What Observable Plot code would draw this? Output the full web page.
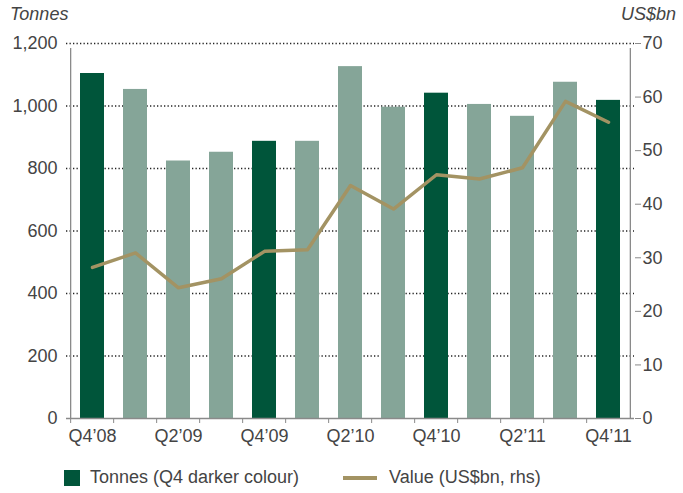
<!DOCTYPE html>
<html><head><meta charset="utf-8">
<script src="https://cdn.jsdelivr.net/npm/d3@7"></script>
<script src="https://cdn.jsdelivr.net/npm/@observablehq/plot@0.6"></script>
<style>
body{margin:0;background:#fff;font-family:"Liberation Sans",Arial,sans-serif;color:#444}
#wrap{position:relative;width:683px;height:493px;overflow:hidden}
.ttl{position:absolute;top:4px;font-style:italic;font-size:18px;color:#444}
#chart{position:absolute;left:0;top:0}
#legend{position:absolute;top:467px;left:64px;display:flex;align-items:center;font-size:18px;color:#444;white-space:nowrap}
.sw{display:inline-block;width:16px;height:16px;background:#00553A;margin-right:10px}
.ln{display:inline-block;width:34px;height:4px;background:#A39363;margin-left:44px;margin-right:12px}
</style></head><body>
<div id="wrap">
<div id="chart"></div>
<div class="ttl" style="left:10px">Tonnes</div>
<div class="ttl" style="right:7px">US$bn</div>
<div id="legend"><span class="sw"></span><span>Tonnes (Q4 darker colour)</span><span class="ln"></span><span>Value (US$bn, rhs)</span></div>
</div>
<script>
const quarters = ["Q4’08","Q1’09","Q2’09","Q3’09","Q4’09","Q1’10","Q2’10","Q3’10","Q4’10","Q1’11","Q2’11","Q3’11","Q4’11"];
const tonnes = [1104, 1053, 824, 852, 887, 887, 1126, 996, 1041, 1005, 967, 1076, 1018];
const valueUSbn = [28.2, 30.9, 24.4, 26.1, 31.2, 31.5, 43.5, 39.1, 45.5, 44.7, 46.8, 59.2, 55.3];
const shownLabels = ["Q4’08","Q2’09","Q4’09","Q2’10","Q4’10","Q2’11","Q4’11"];
const leftTicks = [0, 200, 400, 600, 800, 1000, 1200];
const rightTicks = [0, 10, 20, 30, 40, 50, 60, 70];
const lhsMax = 1200, rhsMax = 70;

const data = quarters.map((q, i) => ({q, tonnes: tonnes[i], value: valueUSbn[i], kind: q.startsWith("Q4") ? "Q4" : "other"}));
const toL = v => v * lhsMax / rhsMax;
const W = 683, H = 460, mL = 66, mR = 49;
const step = (W - mL - mR) / quarters.length;
const axisColor = "#8a8a8a";

const chart = Plot.plot({
  width: W, height: H,
  marginTop: 43, marginBottom: 42, marginLeft: mL, marginRight: mR,
  style: {fontFamily: "'Liberation Sans', Arial, sans-serif", fontSize: "18px", color: "#444", background: "transparent"},
  x: {domain: quarters, paddingInner: 0.45, paddingOuter: 0.225, label: null},
  y: {domain: [0, lhsMax], label: null},
  color: {domain: ["Q4", "other"], range: ["#00553A", "#85A598"]},
  marks: [
    Plot.gridY(leftTicks.slice(1), {stroke: "#222", strokeOpacity: 1, strokeDasharray: "1.3,2.2", strokeWidth: 1.4}),
    Plot.barY(data, {x: "q", y: "tonnes", fill: "kind"}),
    Plot.lineY(data, {x: "q", y: d => toL(d.value), stroke: "#A39363", strokeWidth: 3.5}),
    Plot.ruleY([0], {stroke: axisColor, strokeWidth: 1.3}),
    Plot.ruleX([quarters[0]], {x: d => d, dx: -step / 2, y1: 0, y2: lhsMax, insetBottom: -5, stroke: axisColor, strokeWidth: 1.3}),
    Plot.ruleX([quarters[quarters.length - 1]], {x: d => d, dx: step / 2, y1: 0, y2: lhsMax, insetBottom: -5, stroke: axisColor, strokeWidth: 1.3}),
    Plot.axisY(leftTicks, {anchor: "left", tickSize: 0, tickPadding: 9, tickFormat: d3.format(","), label: null}),
    Plot.axisY(rightTicks.map(toL), {anchor: "right", tickSize: 6, tickPadding: 2, stroke: axisColor, tickFormat: d => Math.round(d * rhsMax / lhsMax), label: null}),
    Plot.axisX(quarters, {tickSize: 5, tickFormat: () => "", dx: -step / 2, stroke: axisColor, label: null}),
    Plot.axisX(shownLabels, {tickSize: 0, tickPadding: 11, label: null})
  ]
});
document.getElementById("chart").appendChild(chart);
</script>
</body></html>
